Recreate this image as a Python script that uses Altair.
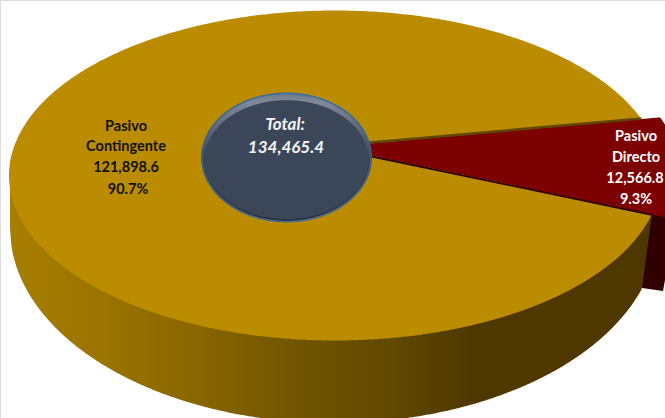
import numpy as np
import pandas as pd
import altair as alt

# Values shown on the chart
categories = ["Pasivo Contingente", "Pasivo Directo"]
amounts = [121898.6, 12566.8]
shares = [90.7, 9.3]
total = 134465.4

W, H = 665, 418

# Disc geometry (pixels)
CX, CY, RX, RY = 335, 175.5, 326, 165
BCX, BCY, BRX, BRY = 334, 228, 324, 195
APEX = (331, 147)
START_DEG = -20
OFFSET = 20  # how far the small slice is pulled out

sx = alt.Scale(domain=[0, W], nice=False, zero=False)
sy = alt.Scale(domain=[H, 0], nice=False, zero=False)


def half(cx, cy, rx, ry, xs):
    s = np.sqrt(np.clip(1 - ((xs - cx) / rx) ** 2, 0, 1))
    return cy - ry * s, cy + ry * s


def ellipse_df(cx, cy, rx, ry, n=500):
    t = np.linspace(np.pi, 0, n)
    xs = cx + rx * np.cos(t)
    top, bot = half(cx, cy, rx, ry, xs)
    return pd.DataFrame({"x": xs, "y": top, "y2": bot})


def area(df, **mark):
    return alt.Chart(df).mark_area(clip=True, **mark).encode(
        x=alt.X("x:Q", scale=sx, axis=None),
        y=alt.Y("y:Q", scale=sy, axis=None),
        y2="y2:Q",
    )


def line(df, **mark):
    return alt.Chart(df).mark_line(clip=True, **mark).encode(
        x=alt.X("x:Q", scale=sx, axis=None),
        y=alt.Y("y:Q", scale=sy, axis=None),
    )


def hgrad(stops):
    return alt.Gradient(
        gradient="linear", x1=0, x2=1, y1=0, y2=0,
        stops=[alt.GradientStop(offset=o, color=c) for o, c in stops],
    )


def vgrad(stops):
    return alt.Gradient(
        gradient="linear", x1=0, x2=0, y1=0, y2=1,
        stops=[alt.GradientStop(offset=o, color=c) for o, c in stops],
    )


# Slice edges follow from the share of the smaller amount
sweep = 360 * amounts[1] / sum(amounts)
t0, t1 = np.radians(START_DEG), np.radians(START_DEG + sweep)
rim0 = (CX + RX * np.cos(t0), CY + RY * np.sin(t0))
rim1 = (CX + RX * np.cos(t1), CY + RY * np.sin(t1))
slope0 = (rim0[1] - APEX[1]) / (rim0[0] - APEX[0])
slope1 = (rim1[1] - APEX[1]) / (rim1[0] - APEX[0])

# Side wall of the large slice, ending at the cut below the slice edge
side_x = np.linspace(BCX - BRX, rim1[0], 500)
side_low = half(BCX, BCY, BRX, BRY, side_x)[1]
cut_x0, cut_y0 = 642, 288
cut = cut_y0 + (rim1[1] - cut_y0) * np.clip((side_x - cut_x0) / (rim1[0] - cut_x0), 0, 1)
side_low = np.where(side_x > cut_x0, np.minimum(side_low, cut), side_low)
side_df = pd.DataFrame({"x": side_x, "y": half(CX, CY, RX, RY, side_x)[1] - 30, "y2": side_low})
side_df["y"] = np.minimum(side_df["y"], side_df["y2"])

# Side wall of the small slice
maroon_x = np.array([cut_x0, 663, 665, 668])
maroon_df = pd.DataFrame({
    "x": maroon_x,
    "y": APEX[1] + slope1 * (maroon_x - APEX[0]) - 2,
    "y2": [288, 291, 280, 280],
})

# Top face of the small slice
red_x = np.linspace(APEX[0], 680, 300)
red_top = np.maximum(
    APEX[1] + slope0 * (red_x - APEX[0]),
    half(CX + OFFSET, CY, RX, RY, np.minimum(red_x, CX + OFFSET + RX))[0],
)
red_top = np.where(red_x < 640, APEX[1] + slope0 * (red_x - APEX[0]), red_top)
red_df = pd.DataFrame({
    "x": red_x,
    "y": red_top,
    "y2": APEX[1] + slope1 * (red_x - APEX[0]),
})

upper_edge = pd.DataFrame({"x": [APEX[0], rim0[0]], "y": [APEX[1] - 1, rim0[1] - 0.5]})
lower_edge = pd.DataFrame({"x": [APEX[0], rim1[0]], "y": [APEX[1] + 1, rim1[1] + 0.5]})

# Centre badge
HCX, HCY, HRX, HRY = 286.5, 157.5, 85.5, 65


def text_layer(rows, **style):
    df = pd.DataFrame(rows, columns=["t", "x", "y"])
    return alt.Chart(df).mark_text(**style).encode(
        x=alt.X("x:Q", scale=sx, axis=None),
        y=alt.Y("y:Q", scale=sy, axis=None),
        text="t:N",
    )


big_word, big_word2 = categories[0].split()
small_word, small_word2 = categories[1].split()

label_big = text_layer(
    [
        (big_word, 126, 127),
        (big_word2, 126, 147),
        (f"{amounts[0]:,.1f}", 126, 168),
        (f"{shares[0]:.1f}%", 128, 190),
    ],
    font="Lato", fontWeight="bold", fontSize=14.5, color="#111111",
)
label_small = text_layer(
    [
        (small_word, 636, 137),
        (small_word2, 636, 158),
        (f"{amounts[1]:,.1f}", 635, 179),
        (f"{shares[1]:.1f}%", 636, 200),
    ],
    font="Lato", fontWeight="bold", fontSize=14.5, color="#ffffff",
)
label_total = text_layer(
    [
        ("Total:", 285, 125),
        (f"{total:,.1f}", 286, 148),
    ],
    font="Lato", fontWeight="bold", fontStyle="italic", fontSize=17, color="#f4f4f4",
)

chart = alt.layer(
    area(maroon_df, color="#300000"),
    area(side_df, color=hgrad([
        (0.0, "#a87e00"), (0.15, "#9a7300"), (0.3, "#876500"),
        (0.45, "#705400"), (0.6, "#604800"), (0.72, "#4f3800"), (1.0, "#4f3800"),
    ])),
    area(ellipse_df(CX, CY, RX, RY), color="#bb8c00"),
    area(red_df, color="#7d0000"),
    line(upper_edge, color="#5f4700", strokeWidth=2.5),
    line(lower_edge, color="#2c0000", strokeWidth=1.8),
    # Badge: blue rim, bevel layer, then the flat face set slightly low
    area(ellipse_df(HCX, HCY, HRX, HRY), color=vgrad([
        (0, "#41709a"), (0.5, "#3d5f80"), (1, "#4a6a8a"),
    ])),
    area(ellipse_df(HCX, HCY, HRX - 1.8, HRY - 1.8), color=vgrad([
        (0, "#6f7a8b"), (0.06, "#7f8999"), (0.5, "#3c4659"), (1, "#262e3c"),
    ])),
    area(ellipse_df(HCX, HCY + 2.2, HRX - 3.5, HRY - 5.5), color="#3c4659"),
    label_big,
    label_small,
    label_total,
).properties(
    width=W, height=H, padding=0,
    autosize=alt.AutoSizeParams(type="none"),
).configure_view(stroke=None).configure(background="#ffffff")

chart.save("out.html", embed_options={"renderer": "svg", "actions": False})
